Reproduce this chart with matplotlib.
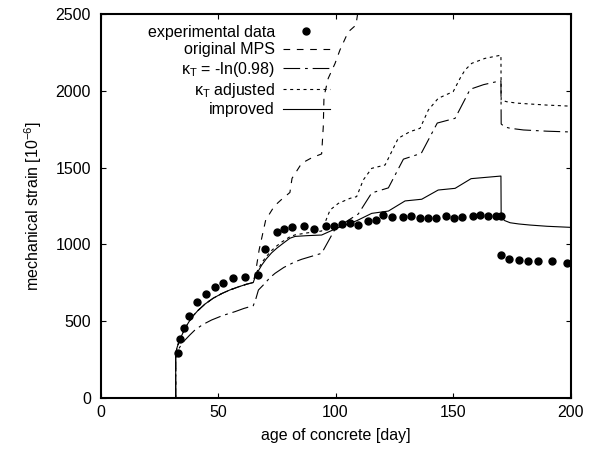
import matplotlib
matplotlib.use("Agg")
import matplotlib.pyplot as plt

plt.rcParams['font.family'] = ['Liberation Sans', 'DejaVu Sans']
plt.rcParams['mathtext.fontset'] = 'custom'
plt.rcParams['mathtext.rm'] = 'Liberation Sans'
plt.rcParams['mathtext.it'] = 'Liberation Sans'
plt.rcParams['mathtext.bf'] = 'Liberation Sans:bold'
plt.rcParams['lines.scale_dashes'] = False

# ---------------- data ----------------
exp_day = [32.8, 33.7, 35.5, 37.7, 40.9, 44.8, 48.7, 52.3, 56.5, 61.5, 66.9, 70.0, 75.0,
           78.1, 81.5, 86.7, 91.0, 95.8, 99.5, 102.6, 106.2, 109.7, 114.0, 117.1, 120.1,
           124.2, 128.6, 132.1, 136.0, 139.2, 142.8, 146.9, 150.3, 153.8, 158.6, 161.6,
           164.8, 168.3, 170.6, 170.3, 174.0, 178.2, 182.0, 186.3, 192.0, 198.6]
exp_val = [291, 386, 454, 536, 623, 677, 725, 751, 781, 790, 803, 972, 1083,
           1098, 1111, 1122, 1100, 1120, 1120, 1131, 1137, 1126, 1152, 1159, 1189,
           1178, 1178, 1187, 1170, 1174, 1174, 1183, 1174, 1178, 1183, 1189,
           1185, 1183, 1183, 929, 907, 896, 894, 894, 892, 881]

early_day = [32, 32, 32.6, 33.5, 34.5, 36, 38.8, 41.5, 44.5, 48, 51.6, 55, 58.6, 62, 65]
early_val = [0, 291, 330, 370, 405, 455, 525, 570, 612, 650, 680, 703, 723, 740, 752]

mps_day = early_day + [66, 67.5, 70.3, 74, 77, 80.6, 81.5, 85.6, 90, 94.1, 94.8, 95.1,
                       96.9, 99.8, 101.9, 105.4, 108.7, 110, 111]
mps_val = early_val + [820, 964, 1159, 1250, 1292, 1338, 1430, 1528, 1565, 1589, 1766, 1962,
                       2081, 2178, 2266, 2383, 2428, 2560, 2700]

k98_day = [32, 32, 33.1, 34.5, 36, 38, 40.2, 43.5, 47.3, 52, 57.2, 61, 65, 66, 67.2, 70,
           72, 74.3, 78, 82.8, 85.6, 94.1, 100, 109.7, 115.4, 122.5, 128.9, 136.5, 143.3,
           150.9, 157.3, 163, 170.4, 170.5, 172, 174.3, 180, 190, 200]
k98_val = [0, 291, 315, 350, 378, 410, 443, 478, 508, 537, 562, 583, 601, 640, 703, 747,
           782, 812, 850, 887, 903, 942, 1105, 1198, 1335, 1368, 1555, 1593, 1790,
           1821, 2010, 2040, 2066, 1784, 1765, 1756, 1745, 1737, 1732]

kadj_day = early_day + [65.4, 66.5, 68.6, 70.5, 72.8, 75, 77.1, 80.6, 82.8, 88, 94.1, 97.7,
                        101.2, 106.2, 109, 111.8, 115.4, 121.1, 123.2, 126.7, 131.7, 136,
                        139.5, 143.7, 150.1, 153, 155.1, 158, 163.6, 170.4, 170.5, 172.8,
                        177, 182.8, 190, 200]
kadj_val = early_val + [775, 820, 880, 920, 960, 990, 1015, 1050, 1062, 1075, 1087, 1224,
                        1267, 1300, 1311, 1419, 1495, 1517, 1582, 1691, 1734, 1756,
                        1875, 1951, 1995, 2081, 2135, 2179, 2211, 2232, 1940, 1929,
                        1920, 1914, 1907, 1900]

imp_day = early_day + [65.4, 66.5, 68.6, 70.5, 72.8, 75, 77.1, 80.6, 82.8, 88, 94.1, 100.5,
                       109, 115.4, 122.5, 129.6, 136.7, 143.7, 150.9, 157.7, 170.4, 170.5,
                       172, 174.3, 178, 182.8, 190, 200]
imp_val = early_val + [770, 810, 865, 905, 945, 975, 1000, 1040, 1052, 1057, 1061, 1105,
                       1154, 1202, 1217, 1283, 1294, 1354, 1365, 1428, 1445, 1176,
                       1155, 1141, 1133, 1126, 1118, 1111]

labels = ['experimental data', 'original MPS', r'$\kappa_{\mathrm{T}}$ = -ln(0.98)',
          r'$\kappa_{\mathrm{T}}$ adjusted', 'improved']
xticks = [0, 50, 100, 150, 200]
yticks = [0, 500, 1000, 1500, 2000, 2500]

# ---------------- figure ----------------
fig = plt.figure(figsize=(5.97, 4.49), dpi=100)
ax = fig.add_axes([100.5 / 597, 1 - 398 / 449, 470 / 597, 384 / 449])

lw = 0.8
ax.plot(exp_day, exp_val, 'o', color='black', ms=5.0, label=labels[0], zorder=5)
ax.plot(mps_day, mps_val, color='black', lw=lw, dashes=(4.8, 4.8), label=labels[1])
ax.plot(k98_day, k98_val, color='black', lw=lw, dashes=(12, 3.5, 2, 3.5), label=labels[2])
ax.plot(kadj_day, kadj_val, color='black', lw=lw, dashes=(2.2, 2.6), label=labels[3])
ax.plot(imp_day, imp_val, color='black', lw=lw, label=labels[4])

ax.set_xlim(0, 200)
ax.set_ylim(0, 2500)
ax.set_xticks(xticks)
ax.set_yticks(yticks)
fs = 11.5
ax.tick_params(direction='in', length=3.8, width=0.8, top=True, right=True, labelsize=fs)
ax.tick_params(axis='x', pad=5)
ax.tick_params(axis='y', pad=7)
for s in ax.spines.values():
    s.set_linewidth(1.5)

ax.set_xlabel('age of concrete [day]', fontsize=fs, labelpad=6)
ax.set_ylabel('mechanical strain [10$^{-6}$]', fontsize=fs, labelpad=8)

# markerfirst=False right-aligns each row (labels end next to their samples)
leg = ax.legend(loc='upper right', bbox_to_anchor=(0.488, 0.972), frameon=False,
                markerfirst=False, numpoints=1, borderpad=0, borderaxespad=0,
                handlelength=2.94, handletextpad=0.5, labelspacing=0.15, fontsize=fs)

fig.savefig('out.png', dpi=100)
